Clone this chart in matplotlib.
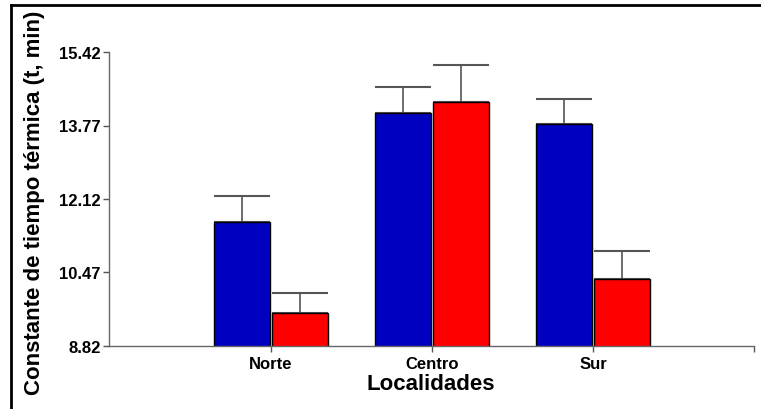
import matplotlib
matplotlib.use("Agg")
import matplotlib.pyplot as plt
from matplotlib.lines import Line2D
import matplotlib.transforms as mtransforms
import numpy as np

plt.rcParams['font.family'] = ['Liberation Sans', 'DejaVu Sans']

categories = ["Norte", "Centro", "Sur"]
blue_values = [11.61, 14.05, 13.81]
blue_err = [0.58, 0.59, 0.56]
red_values = [9.57, 14.30, 10.32]
red_err = [0.45, 0.83, 0.64]
yticks = [8.82, 10.47, 12.12, 13.77, 15.42]

fig = plt.figure(figsize=(7.61, 4.10), dpi=100)
ax = fig.add_axes([109/761, 63/410, 645/761, 294/410])

x = np.arange(len(categories))
w = 0.348
off = 0.180
cap = 28 * 72 / 100

ax.bar(x - off, blue_values, width=w, color='#0000C0', edgecolor='black', linewidth=1, zorder=2)
ax.bar(x + off, red_values, width=w, color='#FF0000', edgecolor='black', linewidth=1, zorder=2)
ax.errorbar(x - off, blue_values, yerr=[np.zeros(3), blue_err], fmt='none',
            ecolor='#555555', elinewidth=1.2, capsize=cap, capthick=1.5, zorder=1)
ax.errorbar(x + off, red_values, yerr=[np.zeros(3), red_err], fmt='none',
            ecolor='#555555', elinewidth=1.2, capsize=cap, capthick=1.5, zorder=1)

ax.set_ylim(yticks[0], yticks[-1])
ax.set_xlim(-1.006, 3.0)
ax.set_yticks(yticks)
ax.set_yticklabels([f"{v:.2f}" for v in yticks], fontsize=12, fontweight='bold')
ax.set_xticks([0, 1, 2, 3])
ax.set_xticklabels(categories + [""], fontsize=12, fontweight='bold')
shift = mtransforms.ScaledTranslation(4/100, 0, fig.dpi_scale_trans)
for lab in ax.get_xticklabels():
    lab.set_transform(lab.get_transform() + shift)
ax.tick_params(axis='y', length=4, pad=2, color='#555555', width=1)
ax.tick_params(axis='x', length=4, pad=3, color='#555555', width=1)
for s in ['top', 'right']:
    ax.spines[s].set_visible(False)
for s in ['left', 'bottom']:
    ax.spines[s].set_color('#666666')
    ax.spines[s].set_linewidth(1)

fig.text(35/761, 1 - 203/410, "Constante de tiempo térmica (t, min)", rotation=90,
         ha='center', va='center', fontsize=16, fontweight='bold')
fig.text(431/761, 1 - 385/410, "Localidades", ha='center', va='center',
         fontsize=16, fontweight='bold')

fig.add_artist(Line2D([11/761, 1], [1 - 6/410, 1 - 6/410], transform=fig.transFigure,
                      color='black', linewidth=2))
fig.add_artist(Line2D([11/761, 11/761], [0, 1 - 6/410], transform=fig.transFigure,
                      color='black', linewidth=2))

fig.savefig("out.png", dpi=100)
